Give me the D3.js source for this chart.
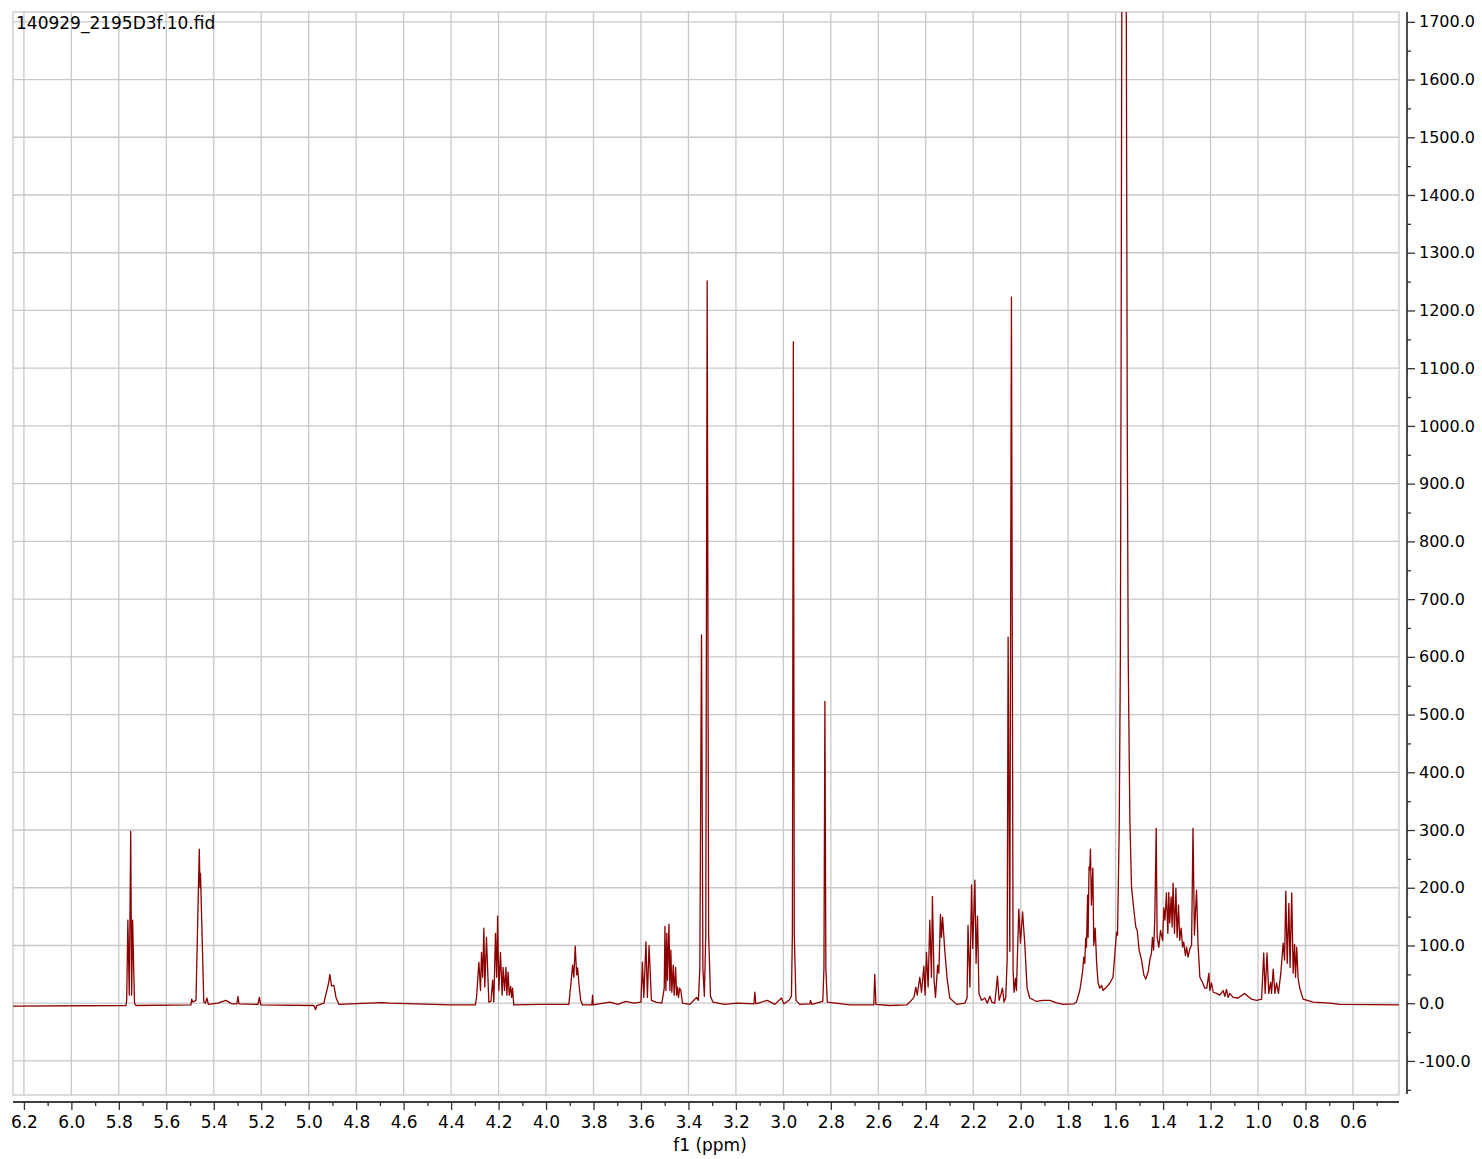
<!DOCTYPE html>
<html>
<head>
<meta charset="utf-8">
<script src="https://cdn.jsdelivr.net/npm/d3@7"></script>
<style>
  body { margin: 0; background: #fff; }
  svg { display: block; font-family: 'DejaVu Sans', Verdana, sans-serif; }
</style>
</head>
<body>
<div id="chart"></div>
<script>
// spectrum trace: [ppm, intensity]
const spectrum = [
  [6.246, -5], [5.770, -4],
  // 5.75 multiplet
  [5.767, 5], [5.762, 144], [5.756, 14], [5.750, 298], [5.746, 14], [5.742, 144], [5.734, 0], [5.728, -4],
  [5.496, -3], [5.493, 7], [5.488, 2], [5.475, 5],
  // 5.46
  [5.461, 267], [5.458, 200], [5.456, 225], [5.442, 2], [5.435, 0], [5.429, 9], [5.423, -2],
  [5.383, 0], [5.349, 5], [5.324, -1], [5.303, -1], [5.298, 12], [5.294, -1],
  [5.214, -2], [5.208, 10], [5.202, -3],
  [4.978, -4], [4.971, -11], [4.966, -4],
  // 4.91
  [4.936, 0], [4.928, 15], [4.920, 28], [4.915, 38], [4.911, 50], [4.904, 30], [4.894, 31], [4.885, 10], [4.873, -2],
  [4.692, 1], [4.658, 0], [4.405, -3], [4.298, -3],
  // 4.28 - 4.14
  [4.293, 9], [4.283, 71], [4.276, 22], [4.272, 88], [4.267, 45], [4.262, 130], [4.258, 28], [4.251, 114],
  [4.241, 2], [4.232, 3], [4.225, 40], [4.220, 2], [4.213, 121], [4.208, 45], [4.204, 151], [4.199, 22],
  [4.192, 88], [4.185, 14], [4.181, 62], [4.175, 22], [4.169, 62], [4.165, 14], [4.160, 54], [4.155, 14],
  [4.149, 29], [4.145, 10], [4.141, 26], [4.136, -3],
  [4.026, -2], [3.904, -2],
  // 3.88
  [3.897, 26], [3.888, 66], [3.883, 45], [3.877, 99], [3.871, 49], [3.867, 61], [3.860, 28], [3.854, 5], [3.846, -3],
  [3.807, -3], [3.804, 14], [3.801, -3], [3.731, 2], [3.697, -2], [3.664, 3], [3.630, 0],
  // 3.58
  [3.600, 2], [3.594, 71], [3.588, 10], [3.579, 106], [3.573, 10], [3.566, 100], [3.556, 5], [3.537, 2],
  // 3.48
  [3.512, 0], [3.502, 26], [3.499, 133], [3.495, 22], [3.491, 121], [3.488, 40], [3.482, 137], [3.478, 22],
  [3.474, 92], [3.470, 19], [3.464, 66], [3.460, 14], [3.454, 62], [3.450, 14], [3.446, 28], [3.442, 10],
  [3.437, 26], [3.432, 22], [3.425, 0], [3.394, -2],
  // 3.34 / 3.32
  [3.366, 10], [3.358, 5], [3.352, 60], [3.345, 638], [3.339, 60], [3.333, 12], [3.327, 120], [3.321, 1251],
  [3.315, 120], [3.307, 12], [3.297, 2], [3.247, -2], [3.196, 0],
  [3.124, -1], [3.120, 19], [3.116, -1], [3.068, 5], [3.036, -2], [3.008, 9], [2.998, -1], [2.976, 5],
  // 2.96
  [2.966, 12], [2.962, 120], [2.958, 1146], [2.954, 120], [2.947, 5], [2.931, -2],
  [2.888, -1], [2.886, 5], [2.880, -2],
  // 2.83
  [2.834, 3], [2.829, 60], [2.825, 523], [2.821, 60], [2.815, 2], [2.720, -3],
  [2.619, -3], [2.615, 50], [2.610, -2], [2.551, -4], [2.480, -3],
  // 2.45 - 2.30
  [2.467, 2], [2.450, 10], [2.442, 28], [2.436, 14], [2.425, 45], [2.418, 19], [2.408, 64], [2.403, 14],
  [2.397, 88], [2.390, 28], [2.383, 144], [2.376, 45], [2.372, 185], [2.365, 40], [2.359, 10], [2.350, 66],
  [2.345, 52], [2.338, 154], [2.334, 114], [2.329, 149], [2.320, 92], [2.310, 43], [2.299, 9], [2.270, -2],
  // 2.22 - 2.18
  [2.235, 0], [2.226, 9], [2.222, 135], [2.214, 28], [2.207, 205], [2.202, 95], [2.193, 213], [2.188, 69],
  [2.182, 151], [2.176, 17], [2.165, 5], [2.151, 9], [2.141, 0], [2.130, 12], [2.122, 2], [2.109, 0],
  [2.098, 47], [2.091, 5], [2.084, 14], [2.077, 26], [2.070, 2], [2.063, 10],
  // 2.05 doublet
  [2.057, 75], [2.053, 634], [2.046, 90], [2.039, 1223], [2.032, 57], [2.028, 19], [2.022, 43], [2.018, 22],
  // 2.00
  [2.008, 163], [2.001, 104], [1.992, 158], [1.983, 104], [1.973, 26], [1.962, 9], [1.933, 3], [1.907, 5],
  [1.877, 5], [1.852, 1], [1.821, -2], [1.775, -1], [1.765, 2],
  // 1.72
  [1.751, 22], [1.740, 52], [1.734, 80], [1.730, 69], [1.726, 113], [1.723, 97], [1.718, 187], [1.716, 114],
  [1.712, 236], [1.709, 231], [1.706, 267], [1.702, 170], [1.696, 234], [1.692, 100], [1.686, 130], [1.680, 69],
  [1.674, 36], [1.667, 26], [1.659, 31], [1.653, 22], [1.638, 28], [1.624, 35], [1.611, 45], [1.603, 87],
  [1.596, 123], [1.592, 118],
  // 1.56 water
  [1.585, 300], [1.580, 600], [1.577, 1100], [1.574, 1717], [1.564, 4000], [1.555, 1717], [1.551, 1000],
  [1.547, 600], [1.540, 317], [1.533, 201], [1.523, 161], [1.515, 132], [1.509, 126], [1.501, 92],
  [1.491, 75], [1.481, 49], [1.473, 42], [1.463, 54], [1.456, 75], [1.449, 87], [1.445, 114], [1.440, 92],
  // 1.43 - 1.25
  [1.435, 144], [1.429, 303], [1.425, 114], [1.418, 97], [1.411, 126], [1.402, 109], [1.397, 165], [1.392, 144],
  [1.386, 191], [1.380, 121], [1.376, 192], [1.372, 139], [1.366, 184], [1.362, 132], [1.358, 208], [1.352, 121],
  [1.346, 199], [1.341, 114], [1.335, 170], [1.330, 109], [1.324, 130], [1.318, 97], [1.313, 106], [1.306, 83],
  [1.301, 97], [1.295, 80], [1.287, 95], [1.280, 100], [1.274, 303], [1.268, 118], [1.259, 196], [1.253, 104],
  [1.245, 45], [1.234, 36], [1.224, 26], [1.216, 26], [1.207, 52], [1.203, 22], [1.196, 35], [1.189, 19],
  [1.175, 17], [1.161, 14], [1.147, 22], [1.140, 12], [1.133, 24], [1.126, 10], [1.119, 17], [1.105, 10],
  [1.084, 9], [1.056, 17], [1.028, 7], [1.006, 5], [0.985, 7],
  // 0.97 - 0.83
  [0.976, 87], [0.970, 17], [0.962, 87], [0.955, 17], [0.947, 36], [0.943, 17], [0.936, 59], [0.929, 17],
  [0.922, 35], [0.914, 17], [0.904, 52], [0.894, 104], [0.888, 75], [0.883, 194], [0.877, 69], [0.870, 173],
  [0.865, 62], [0.858, 191], [0.852, 52], [0.846, 102], [0.842, 45], [0.837, 97], [0.831, 43], [0.824, 26],
  [0.810, 7], [0.768, 2], [0.698, 0], [0.655, -2], [0.406, -3]
];

const title = '140929_2195D3f.10.fid';
const xLabel = 'f1 (ppm)';
const xMajorTicks = [6.2, 6.0, 5.8, 5.6, 5.4, 5.2, 5.0, 4.8, 4.6, 4.4, 4.2, 4.0, 3.8, 3.6, 3.4, 3.2, 3.0,
  2.8, 2.6, 2.4, 2.2, 2.0, 1.8, 1.6, 1.4, 1.2, 1.0, 0.8, 0.6];
const yMajorTicks = [-100, 0, 100, 200, 300, 400, 500, 600, 700, 800, 900, 1000, 1100, 1200, 1300, 1400, 1500, 1600, 1700];

const WIDTH = 1482, HEIGHT = 1159;
const PLOT = {left: 13, right: 1399, top: 12, bottom: 1095};
const X_DOMAIN = [6.246, 0.406];
const Y_DOMAIN = [-159, 1717];
const LINE_COLOR = '#8b0000';
const GRID_COLOR = '#c8c8c8';
const AXIS_COLOR = '#333333';
const FONT = "'DejaVu Sans', Verdana, sans-serif";

const svg = d3.select('#chart').append('svg')
  .attr('width', WIDTH)
  .attr('height', HEIGHT);

const x = d3.scaleLinear().domain(X_DOMAIN).range([PLOT.left, PLOT.right]);
const y = d3.scaleLinear().domain(Y_DOMAIN).range([PLOT.bottom, PLOT.top]);

// grid
const grid = svg.append('g').attr('class', 'grid')
  .attr('stroke', GRID_COLOR).attr('stroke-width', 1.3);
grid.selectAll('.vgrid').data(xMajorTicks).enter().append('line')
  .attr('x1', d => x(d)).attr('x2', d => x(d))
  .attr('y1', PLOT.top).attr('y2', PLOT.bottom);
grid.selectAll('.hgrid').data(yMajorTicks).enter().append('line')
  .attr('x1', PLOT.left).attr('x2', PLOT.right)
  .attr('y1', d => y(d)).attr('y2', d => y(d));
grid.append('rect')
  .attr('x', PLOT.left).attr('y', PLOT.top)
  .attr('width', PLOT.right - PLOT.left).attr('height', PLOT.bottom - PLOT.top)
  .attr('fill', 'none');

// spectrum
svg.append('clipPath').attr('id', 'plot-clip')
  .append('rect')
  .attr('x', PLOT.left).attr('y', PLOT.top)
  .attr('width', PLOT.right - PLOT.left).attr('height', PLOT.bottom - PLOT.top);

const line = d3.line()
  .x(d => x(d[0]))
  .y(d => y(d[1]));

svg.append('path')
  .datum(spectrum)
  .attr('clip-path', 'url(#plot-clip)')
  .attr('fill', 'none')
  .attr('stroke', LINE_COLOR)
  .attr('stroke-width', 1.3)
  .attr('stroke-linejoin', 'round')
  .attr('d', line);

// bottom axis
const xAxisY = 1102;
const xMinor = d3.range(62, 4, -1).map(v => v / 10)
  .filter(v => v < X_DOMAIN[0] && v > X_DOMAIN[1])
  .filter(v => Math.abs(v * 5 - Math.round(v * 5)) > 1e-6);
const xAxisG = svg.append('g')
  .attr('transform', 'translate(0,' + xAxisY + ')');
xAxisG.call(d3.axisBottom(x).tickValues(xMinor).tickSize(4).tickSizeOuter(0).tickFormat(''));
xAxisG.append('g')
  .call(d3.axisBottom(x).tickValues(xMajorTicks).tickSize(8).tickSizeOuter(0).tickPadding(6)
    .tickFormat(d => d.toFixed(1)));
xAxisG.selectAll('path.domain').attr('stroke', AXIS_COLOR).attr('stroke-width', 1.3)
  .attr('d', 'M' + PLOT.left + ',0H' + PLOT.right);
xAxisG.selectAll('.tick line').attr('stroke', AXIS_COLOR).attr('stroke-width', 1.3);
xAxisG.selectAll('.tick text')
  .attr('fill', '#000')
  .style('font-size', '17px')
  .style('font-family', FONT);

svg.append('text')
  .attr('x', 710)
  .attr('y', 1151)
  .attr('text-anchor', 'middle')
  .style('font-size', '17px')
  .attr('fill', '#000')
  .text(xLabel);

// right axis
const yAxisX = 1407;
const yMinor = d3.range(-150, 1717, 100);
const yAxisG = svg.append('g')
  .attr('transform', 'translate(' + yAxisX + ',0)');
yAxisG.call(d3.axisRight(y).tickValues(yMinor).tickSize(4).tickSizeOuter(0).tickFormat(''));
yAxisG.append('g')
  .call(d3.axisRight(y).tickValues(yMajorTicks).tickSize(8).tickSizeOuter(0).tickPadding(4)
    .tickFormat(d => d.toFixed(1)));
yAxisG.selectAll('path.domain').attr('stroke', AXIS_COLOR).attr('stroke-width', 1.3)
  .attr('d', 'M0,' + PLOT.top + 'V' + (PLOT.bottom - 1));
yAxisG.selectAll('.tick line').attr('stroke', AXIS_COLOR).attr('stroke-width', 1.3);
yAxisG.selectAll('.tick text')
  .attr('fill', '#000')
  .style('font-size', '16px')
  .style('font-family', FONT);

// title
svg.append('text')
  .attr('x', 16)
  .attr('y', 29)
  .style('font-size', '17px')
  .attr('fill', '#000')
  .text(title);
</script>
</body>
</html>
